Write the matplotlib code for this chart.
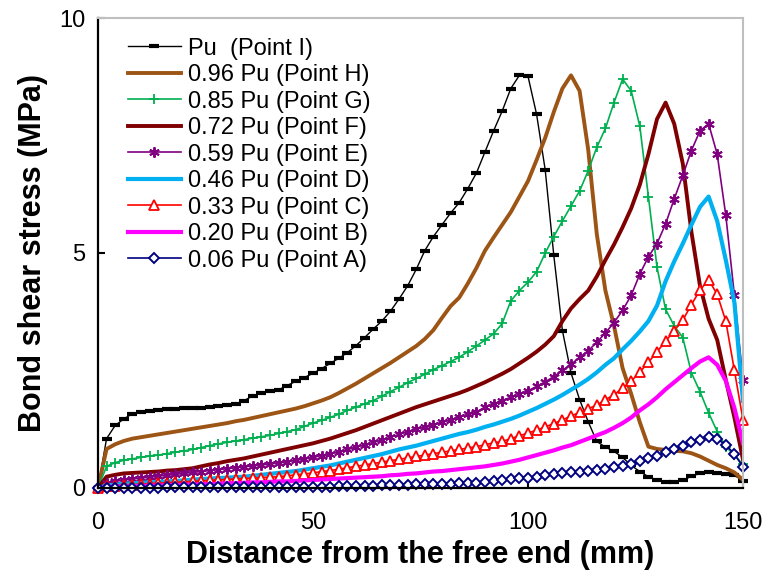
import matplotlib
matplotlib.use("Agg")
import matplotlib.pyplot as plt

plt.rcParams['font.family'] = ['Liberation Sans', 'DejaVu Sans']

# distance from the free end (mm), one reading every 2 mm
distance = list(range(0, 151, 2))

pu_I = [0.00, 1.05, 1.33, 1.47, 1.58, 1.62, 1.64, 1.66, 1.68, 1.69,
        1.70, 1.70, 1.71, 1.73, 1.75, 1.77, 1.79, 1.86, 1.96, 2.03,
        2.06, 2.09, 2.18, 2.27, 2.35, 2.44, 2.54, 2.65, 2.76, 2.88,
        3.03, 3.20, 3.38, 3.55, 3.76, 4.02, 4.30, 4.65, 5.05, 5.35,
        5.60, 5.85, 6.07, 6.37, 6.70, 7.15, 7.60, 8.02, 8.50, 8.78,
        8.76, 7.95, 6.77, 4.95, 3.35, 2.45, 1.88, 1.41, 0.99, 0.87,
        0.78, 0.65, 0.48, 0.35, 0.24, 0.17, 0.13, 0.12, 0.16, 0.25,
        0.31, 0.33, 0.32, 0.30, 0.27, 0.15]

pu_H = [0.00, 0.83, 0.93, 1.00, 1.05, 1.08, 1.11, 1.14, 1.17, 1.20,
        1.23, 1.26, 1.29, 1.32, 1.35, 1.38, 1.42, 1.45, 1.49, 1.53,
        1.57, 1.61, 1.65, 1.69, 1.74, 1.80, 1.86, 1.93, 2.02, 2.12,
        2.22, 2.33, 2.44, 2.55, 2.66, 2.78, 2.90, 3.02, 3.17, 3.36,
        3.62, 3.87, 4.05, 4.35, 4.68, 5.05, 5.33, 5.60, 5.87, 6.20,
        6.53, 6.98, 7.45, 8.00, 8.50, 8.78, 8.45, 7.20, 5.40, 4.20,
        3.45, 2.55, 2.00, 1.40, 0.88, 0.83, 0.81, 0.79, 0.78, 0.74,
        0.67, 0.58, 0.49, 0.42, 0.33, 0.17]

pu_G = [0.00, 0.46, 0.54, 0.59, 0.62, 0.65, 0.68, 0.70, 0.73, 0.76,
        0.79, 0.82, 0.86, 0.90, 0.94, 0.97, 1.00, 1.03, 1.06, 1.09,
        1.12, 1.16, 1.20, 1.24, 1.31, 1.38, 1.44, 1.50, 1.57, 1.65,
        1.72, 1.79, 1.86, 1.95, 2.05, 2.14, 2.24, 2.33, 2.42, 2.52,
        2.60, 2.69, 2.78, 2.90, 3.02, 3.15, 3.28, 3.50, 3.98, 4.20,
        4.38, 4.60, 5.00, 5.35, 5.68, 6.00, 6.32, 6.75, 7.25, 7.65,
        8.20, 8.70, 8.45, 7.70, 6.20, 4.70, 3.80, 3.45, 3.20, 2.45,
        2.05, 1.60, 1.20, 0.88, 0.70, 0.50]

pu_F = [0.00, 0.24, 0.28, 0.31, 0.32, 0.33, 0.34, 0.35, 0.37, 0.38,
        0.40, 0.42, 0.46, 0.50, 0.53, 0.57, 0.60, 0.63, 0.67, 0.71,
        0.75, 0.79, 0.83, 0.87, 0.91, 0.95, 1.00, 1.05, 1.11, 1.17,
        1.23, 1.30, 1.37, 1.44, 1.51, 1.58, 1.65, 1.72, 1.78, 1.84,
        1.90, 1.96, 2.02, 2.09, 2.17, 2.25, 2.34, 2.43, 2.53, 2.65,
        2.77, 2.90, 3.05, 3.23, 3.55, 3.82, 4.02, 4.20, 4.50, 4.85,
        5.18, 5.55, 5.95, 6.45, 7.10, 7.85, 8.20, 7.75, 6.90, 5.45,
        4.30, 3.60, 3.15, 2.30, 1.50, 0.60]

pu_E = [0.00, 0.10, 0.14, 0.17, 0.19, 0.21, 0.23, 0.25, 0.27, 0.29,
        0.31, 0.33, 0.35, 0.37, 0.39, 0.41, 0.43, 0.45, 0.47, 0.49,
        0.51, 0.53, 0.56, 0.59, 0.62, 0.65, 0.69, 0.73, 0.77, 0.82,
        0.87, 0.92, 0.97, 1.02, 1.08, 1.14, 1.20, 1.25, 1.30, 1.35,
        1.40, 1.45, 1.51, 1.57, 1.62, 1.72, 1.79, 1.86, 1.93, 2.00,
        2.07, 2.16, 2.26, 2.37, 2.50, 2.63, 2.78, 2.92, 3.10, 3.30,
        3.52, 3.78, 4.10, 4.55, 4.92, 5.20, 5.62, 6.15, 6.65, 7.18,
        7.60, 7.75, 7.10, 5.80, 4.10, 2.30]

pu_D = [0.00, 0.05, 0.07, 0.09, 0.10, 0.11, 0.12, 0.13, 0.14, 0.15,
        0.16, 0.18, 0.19, 0.20, 0.21, 0.22, 0.23, 0.24, 0.26, 0.28,
        0.30, 0.32, 0.34, 0.36, 0.39, 0.42, 0.45, 0.48, 0.52, 0.56,
        0.60, 0.64, 0.68, 0.72, 0.77, 0.82, 0.86, 0.90, 0.95, 1.00,
        1.05, 1.10, 1.15, 1.19, 1.24, 1.30, 1.35, 1.41, 1.47, 1.54,
        1.62, 1.70, 1.79, 1.88, 1.98, 2.09, 2.20, 2.32, 2.46, 2.62,
        2.76, 2.95, 3.13, 3.33, 3.55, 3.88, 4.40, 4.82, 5.20, 5.60,
        5.98, 6.20, 5.68, 4.85, 3.95, 1.85]

pu_C = [0.00, 0.04, 0.05, 0.06, 0.07, 0.08, 0.09, 0.10, 0.11, 0.12,
        0.13, 0.14, 0.15, 0.16, 0.17, 0.18, 0.19, 0.20, 0.21, 0.22,
        0.23, 0.24, 0.26, 0.28, 0.30, 0.32, 0.35, 0.37, 0.40, 0.43,
        0.46, 0.49, 0.52, 0.55, 0.58, 0.61, 0.64, 0.67, 0.70, 0.73,
        0.76, 0.79, 0.82, 0.85, 0.88, 0.92, 0.96, 0.99, 1.05, 1.11,
        1.17, 1.23, 1.30, 1.37, 1.45, 1.53, 1.61, 1.69, 1.76, 1.88,
        1.98, 2.13, 2.27, 2.47, 2.67, 2.90, 3.12, 3.35, 3.57, 3.90,
        4.21, 4.43, 4.12, 3.55, 2.50, 1.45]

pu_B = [0.00, 0.02, 0.03, 0.03, 0.04, 0.04, 0.05, 0.05, 0.06, 0.06,
        0.07, 0.07, 0.08, 0.08, 0.09, 0.10, 0.10, 0.11, 0.12, 0.12,
        0.13, 0.14, 0.14, 0.15, 0.16, 0.17, 0.18, 0.19, 0.20, 0.21,
        0.22, 0.23, 0.24, 0.25, 0.27, 0.28, 0.30, 0.31, 0.33, 0.35,
        0.36, 0.38, 0.40, 0.42, 0.44, 0.46, 0.49, 0.52, 0.56, 0.60,
        0.65, 0.70, 0.75, 0.80, 0.86, 0.91, 0.98, 1.05, 1.12, 1.19,
        1.28, 1.38, 1.50, 1.65, 1.78, 1.93, 2.10, 2.25, 2.40, 2.55,
        2.69, 2.78, 2.62, 2.28, 1.70, 0.95]

pu_A = [0.00, 0.01, 0.01, 0.01, 0.01, 0.01, 0.01, 0.01, 0.02, 0.02,
        0.02, 0.02, 0.02, 0.02, 0.02, 0.02, 0.02, 0.02, 0.02, 0.02,
        0.02, 0.02, 0.03, 0.03, 0.03, 0.03, 0.03, 0.03, 0.04, 0.04,
        0.05, 0.05, 0.05, 0.06, 0.06, 0.07, 0.07, 0.08, 0.08, 0.09,
        0.09, 0.09, 0.10, 0.10, 0.11, 0.13, 0.15, 0.17, 0.19, 0.21,
        0.22, 0.24, 0.27, 0.29, 0.31, 0.33, 0.35, 0.37, 0.39, 0.41,
        0.44, 0.47, 0.52, 0.57, 0.63, 0.69, 0.76, 0.83, 0.90, 0.97,
        1.03, 1.08, 1.04, 0.92, 0.72, 0.45]

labels = ['Pu  (Point I)', '0.96 Pu (Point H)', '0.85 Pu (Point G)',
          '0.72 Pu (Point F)', '0.59 Pu (Point E)', '0.46 Pu (Point D)',
          '0.33 Pu (Point C)', '0.20 Pu (Point B)', '0.06 Pu (Point A)']

fig = plt.figure(figsize=(7.69, 5.79), dpi=100)
ax = fig.add_axes([0.1274, 0.1572, 0.8388, 0.8117])

ax.plot(distance, pu_I, color='black', lw=1.0, marker='_', ms=7, mew=3, label=labels[0], clip_on=False)
ax.plot(distance, pu_H, color='#9c5514', lw=2.8, label=labels[1])
ax.plot(distance, pu_G, color='#00b050', lw=1.2, marker='+', ms=7, mew=1.3, label=labels[2], clip_on=False)
ax.plot(distance, pu_F, color='#7f0000', lw=2.8, label=labels[3])
ax.plot(distance, pu_E, color='#800080', lw=1.2, marker=(6, 2, 0), ms=7.5, mew=1.4, label=labels[4], clip_on=False)
ax.plot(distance, pu_D, color='#00b0f0', lw=3.0, label=labels[5])
ax.plot(distance, pu_C, color='red', lw=1.2, marker='^', ms=6.5, mfc='white', mew=1.3, label=labels[6], clip_on=False)
ax.plot(distance, pu_B, color='#ff00ff', lw=3.0, label=labels[7])
ax.plot(distance, pu_A, color='#000080', lw=1.2, marker='D', ms=5, mfc='white', mew=1.4, label=labels[8], clip_on=False)

ax.set_xlim(0, 150)
ax.set_ylim(0, 10)
ax.set_xticks([0, 50, 100, 150])
ax.set_yticks([0, 5, 10])
ax.tick_params(direction='in', length=5, width=1.5, labelsize=17)
ax.tick_params(axis='x', pad=17)
ax.tick_params(axis='y', pad=9)

for s in ['left', 'bottom']:
    ax.spines[s].set_linewidth(1.6)
    ax.spines[s].set_color('black')
for s in ['top', 'right']:
    ax.spines[s].set_linewidth(1.5)
    ax.spines[s].set_color('#bfbfbf')

ax.set_xlabel('Distance from the free end (mm)', fontsize=22, fontweight='bold')
ax.set_ylabel('Bond shear stress (MPa)', fontsize=22, fontweight='bold')
ax.xaxis.set_label_coords(0.5, -0.111)
ax.yaxis.set_label_coords(-0.078, 0.5)

ax.legend(loc='upper left', bbox_to_anchor=(0.046, 0.958), frameon=False, fontsize=17,
          handlelength=2.25, handletextpad=0.3, labelspacing=0.19, borderpad=0,
          borderaxespad=0, numpoints=1)

fig.savefig('out.png', dpi=100)
